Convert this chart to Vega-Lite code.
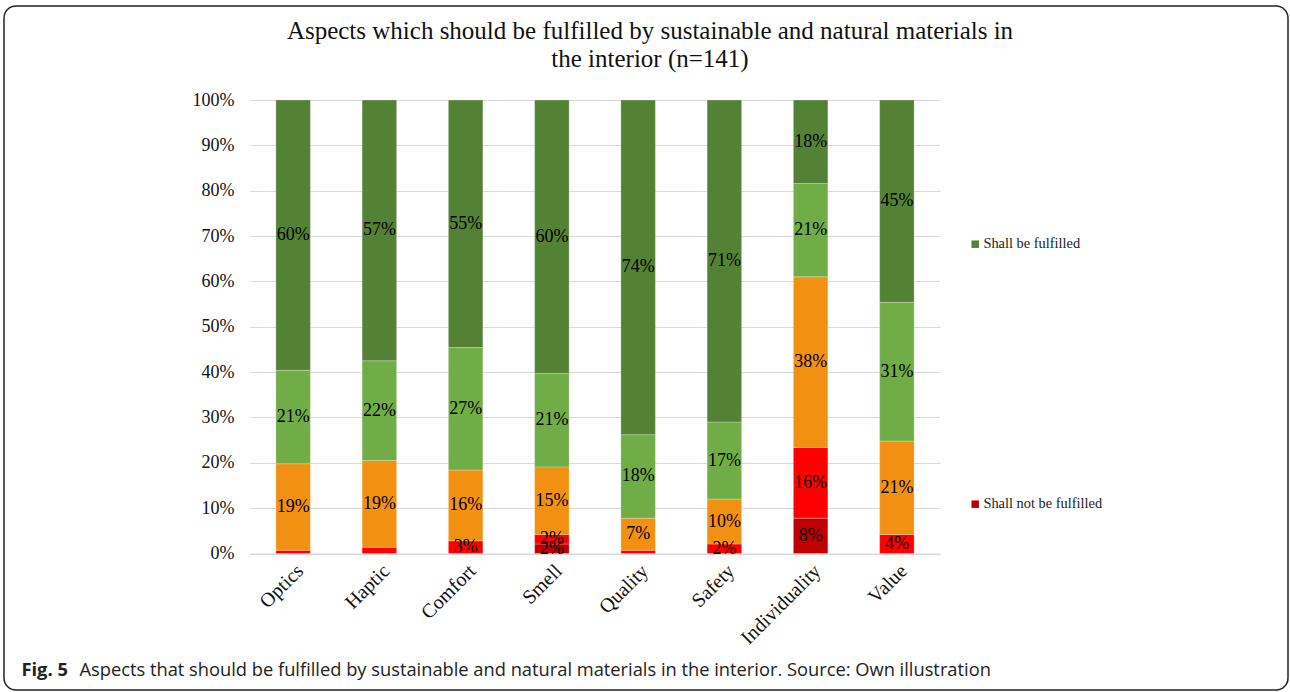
{
  "$schema": "https://vega.github.io/schema/vega-lite/v6.json",
  "width": 1284,
  "height": 684,
  "autosize": {"type": "none"},
  "padding": {"left": 4, "top": 6, "right": 2, "bottom": 2},
  "background": "white",
  "view": {"stroke": "#222222", "strokeWidth": 1.5, "cornerRadius": 12, "fill": "white"},
  "title": {
    "text": ["Aspects which should be fulfilled by sustainable and natural materials in", "the interior (n=141)"],
    "font": "Liberation Serif",
    "fontSize": 25,
    "fontWeight": "normal",
    "color": "#111111",
    "lineHeight": 28,
    "anchor": "middle",
    "frame": "group",
    "offset": -66,
    "dx": 4
  },
  "data": {
    "values": [
      {"aspect": "Optics", "level": "Level 2", "order": 2, "percent": 0.7},
      {"aspect": "Optics", "level": "Level 3", "order": 3, "percent": 19.1},
      {"aspect": "Optics", "level": "Level 4", "order": 4, "percent": 20.6},
      {"aspect": "Optics", "level": "Shall be fulfilled", "order": 5, "percent": 59.6},
      {"aspect": "Haptic", "level": "Level 2", "order": 2, "percent": 1.4},
      {"aspect": "Haptic", "level": "Level 3", "order": 3, "percent": 19.1},
      {"aspect": "Haptic", "level": "Level 4", "order": 4, "percent": 22.0},
      {"aspect": "Haptic", "level": "Shall be fulfilled", "order": 5, "percent": 57.5},
      {"aspect": "Comfort", "level": "Level 2", "order": 2, "percent": 2.8},
      {"aspect": "Comfort", "level": "Level 3", "order": 3, "percent": 15.6},
      {"aspect": "Comfort", "level": "Level 4", "order": 4, "percent": 27.0},
      {"aspect": "Comfort", "level": "Shall be fulfilled", "order": 5, "percent": 54.6},
      {"aspect": "Smell", "level": "Shall not be fulfilled", "order": 1, "percent": 2.1},
      {"aspect": "Smell", "level": "Level 2", "order": 2, "percent": 2.1},
      {"aspect": "Smell", "level": "Level 3", "order": 3, "percent": 14.9},
      {"aspect": "Smell", "level": "Level 4", "order": 4, "percent": 20.6},
      {"aspect": "Smell", "level": "Shall be fulfilled", "order": 5, "percent": 60.3},
      {"aspect": "Quality", "level": "Level 2", "order": 2, "percent": 0.7},
      {"aspect": "Quality", "level": "Level 3", "order": 3, "percent": 7.1},
      {"aspect": "Quality", "level": "Level 4", "order": 4, "percent": 18.4},
      {"aspect": "Quality", "level": "Shall be fulfilled", "order": 5, "percent": 73.8},
      {"aspect": "Safety", "level": "Level 2", "order": 2, "percent": 2.1},
      {"aspect": "Safety", "level": "Level 3", "order": 3, "percent": 9.9},
      {"aspect": "Safety", "level": "Level 4", "order": 4, "percent": 17.0},
      {"aspect": "Safety", "level": "Shall be fulfilled", "order": 5, "percent": 71.0},
      {"aspect": "Individuality", "level": "Shall not be fulfilled", "order": 1, "percent": 7.8},
      {"aspect": "Individuality", "level": "Level 2", "order": 2, "percent": 15.6},
      {"aspect": "Individuality", "level": "Level 3", "order": 3, "percent": 37.6},
      {"aspect": "Individuality", "level": "Level 4", "order": 4, "percent": 20.6},
      {"aspect": "Individuality", "level": "Shall be fulfilled", "order": 5, "percent": 18.4},
      {"aspect": "Value", "level": "Level 2", "order": 2, "percent": 4.2},
      {"aspect": "Value", "level": "Level 3", "order": 3, "percent": 20.6},
      {"aspect": "Value", "level": "Level 4", "order": 4, "percent": 30.6},
      {"aspect": "Value", "level": "Shall be fulfilled", "order": 5, "percent": 44.6}
    ]
  },
  "transform": [
    {"stack": "percent", "groupby": ["aspect"], "sort": [{"field": "order", "order": "ascending"}], "offset": "normalize", "as": ["y0", "y1"]},
    {"calculate": "(datum.y0 + datum.y1) / 2", "as": "ymid"},
    {"calculate": "datum.y1 - datum.y0", "as": "pct"}
  ],
  "encoding": {
    "x": {
      "field": "aspect",
      "type": "nominal",
      "sort": ["Optics", "Haptic", "Comfort", "Smell", "Quality", "Safety", "Individuality", "Value"],
      "scale": {"range": [246, 936], "paddingInner": 0.6, "paddingOuter": 0.3},
      "axis": {
        "title": "Aspects that should be fulfilled by sustainable and natural materials in the interior. Source: Own illustration",
        "labelAngle": -45,
        "labelFont": "Liberation Serif",
        "labelFontSize": 20,
        "labelColor": "#111111",
        "labelPadding": 7,
        "ticks": false,
        "domainColor": "#d9d9d9",
        "domainWidth": 1,
        "offset": -136.5,
        "titleFont": "Open Sans",
        "titleFontSize": 18.3,
        "titleFontWeight": "normal",
        "titleColor": "#222222",
        "titleX": 75,
        "titleY": 121.5,
        "titleAlign": "left",
        "titleBaseline": "alphabetic",
        "titleLimit": 2000
      }
    }
  },
  "layer": [
    {
      "mark": {"type": "bar", "stroke": "white", "strokeWidth": 0.5, "strokeOpacity": 0.5},
      "encoding": {
        "y": {
          "field": "y0",
          "type": "quantitative",
          "scale": {"domain": [0, 1], "range": [547.5, 94], "nice": false},
          "axis": {
            "values": [0, 0.1, 0.2, 0.3, 0.4, 0.5, 0.6, 0.7, 0.8, 0.9, 1],
            "format": ".0%",
            "grid": true,
            "gridColor": "#d9d9d9",
            "gridWidth": 1,
            "domain": false,
            "ticks": false,
            "labelFont": "Liberation Serif",
            "labelFontSize": 18,
            "labelColor": "#111111",
            "labelPadding": 16,
            "offset": -246,
            "title": "Fig. 5",
            "titleFont": "Open Sans",
            "titleFontWeight": "bold",
            "titleFontSize": 18.3,
            "titleAngle": 0,
            "titleX": -229,
            "titleY": 669,
            "titleAlign": "left",
            "titleBaseline": "alphabetic",
            "titleColor": "#222222"
          }
        },
        "y2": {"field": "y1"},
        "color": {
          "field": "level",
          "type": "nominal",
          "scale": {
            "domain": ["Shall not be fulfilled", "Level 2", "Level 3", "Level 4", "Shall be fulfilled"],
            "range": ["#C00000", "#FF0000", "#F29111", "#70AD47", "#548235"]
          },
          "legend": {
            "values": ["Shall be fulfilled", "Shall not be fulfilled"],
            "orient": "none",
            "legendX": 964,
            "legendY": 231,
            "title": null,
            "symbolType": "square",
            "symbolSize": 56,
            "symbolStrokeWidth": 0,
            "labelFont": "Liberation Serif",
            "labelFontSize": 14.4,
            "labelColor": "#222222",
            "labelOffset": 1,
            "rowPadding": 245,
            "padding": 0
          }
        }
      }
    },
    {
      "transform": [{"filter": "datum.pct >= 0.015"}],
      "mark": {"type": "text", "font": "Liberation Serif", "fontSize": 18, "color": "#000000"},
      "encoding": {
        "y": {"field": "ymid", "type": "quantitative", "axis": {"title": "Fig. 5"}},
        "text": {"field": "pct", "type": "quantitative", "format": ".0%"}
      }
    }
  ]
}
